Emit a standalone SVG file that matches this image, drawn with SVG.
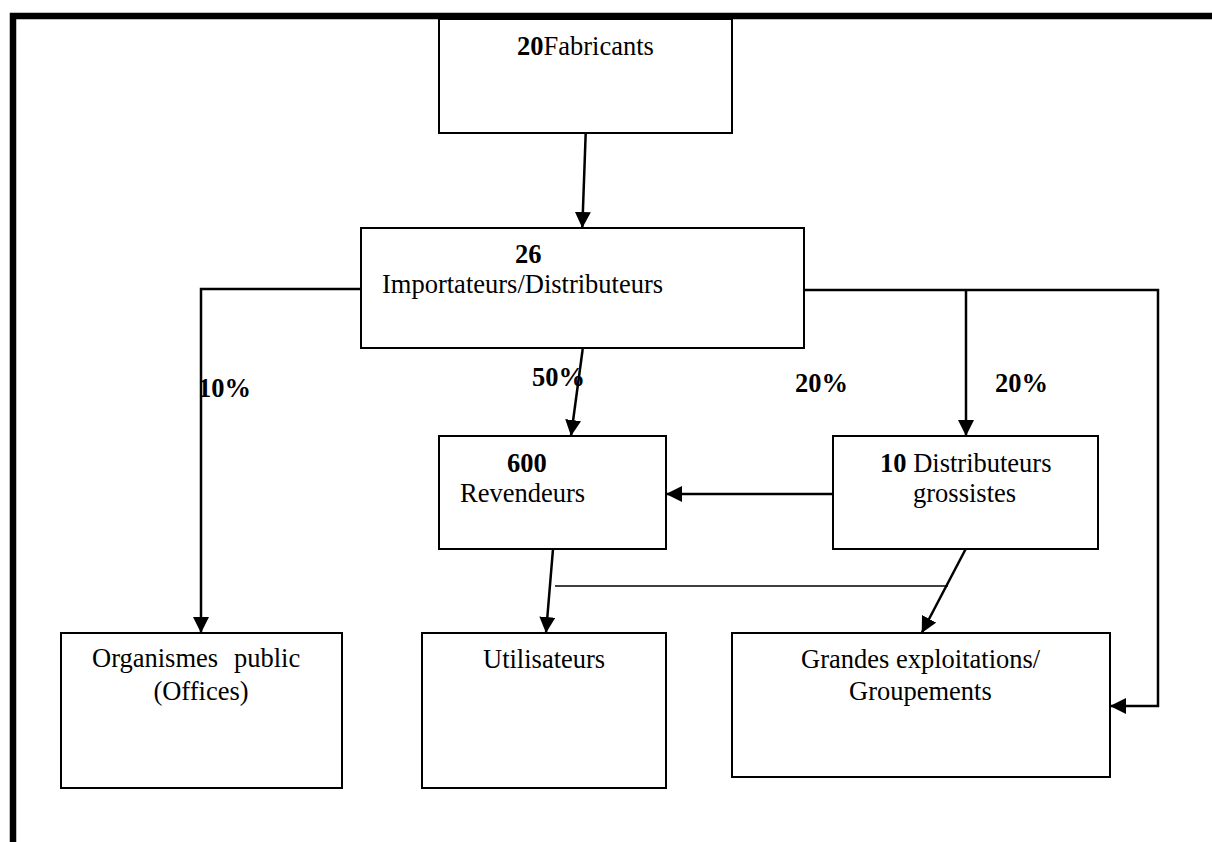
<svg xmlns="http://www.w3.org/2000/svg" width="1212" height="842" viewBox="0 0 1212 842">
<style>
.box{fill:#fff;stroke:#000;stroke-width:2}
.t{font-family:"Liberation Serif","Times New Roman",serif;font-size:26.5px;fill:#000}
.b{font-weight:bold}
.c{fill:none;stroke:#000;stroke-width:2.5}
.thin{fill:none;stroke:#000;stroke-width:1.6}
</style>
<defs>
<marker id="ah" markerUnits="userSpaceOnUse" markerWidth="17" markerHeight="16" refX="16" refY="8" orient="auto">
<path d="M0,0 L16,8 L0,16 Z" fill="#000"/>
</marker>
</defs>
<rect x="0" y="0" width="1212" height="842" fill="#fff"/>
<g id="frame">
<path d="M13,842 L13,16 L1212,16" fill="none" stroke="#000" stroke-width="6.5"/>
</g>
<g id="n-fabricants">
<rect class="box" x="439" y="19" width="293" height="114"/>
<text class="t" x="517" y="55"><tspan class="b">20</tspan>Fabricants</text>
</g>
<g id="n-importateurs">
<rect class="box" x="361" y="228" width="443" height="120"/>
<text class="t b" x="515" y="263">26</text>
<text class="t" x="382" y="293">Importateurs/Distributeurs</text>
</g>
<g id="n-revendeurs">
<rect class="box" x="439" y="436" width="227" height="113"/>
<text class="t b" x="507" y="472">600</text>
<text class="t" x="460" y="502">Revendeurs</text>
</g>
<g id="n-distributeurs">
<rect class="box" x="833" y="436" width="265" height="113"/>
<text class="t" x="880" y="472"><tspan class="b">10</tspan> Distributeurs</text>
<text class="t" x="913" y="502">grossistes</text>
</g>
<g id="n-organismes">
<rect class="box" x="61" y="633" width="281" height="155"/>
<text class="t" x="92" y="667">Organismes<tspan x="234">public</tspan></text>
<text class="t" x="201" y="700" text-anchor="middle">(Offices)</text>
</g>
<g id="n-utilisateurs">
<rect class="box" x="422" y="633" width="244" height="155"/>
<text class="t" x="483" y="668">Utilisateurs</text>
</g>
<g id="n-grandes">
<rect class="box" x="732" y="633" width="378" height="144"/>
<text class="t" x="801" y="668">Grandes exploitations/</text>
<text class="t" x="849" y="700">Groupements</text>
</g>
<g id="connectors">
<path class="c" d="M585.7,133 L582.3,228" marker-end="url(#ah)"/>
<path class="c" d="M361,289 L201,289 L201,633" marker-end="url(#ah)"/>
<path class="c" d="M582.7,349 L571,436" marker-end="url(#ah)"/>
<path class="c" d="M804,290 L1158,290 L1158,706 L1110,706" marker-end="url(#ah)"/>
<path class="c" d="M966,290 L966,436" marker-end="url(#ah)"/>
<path class="c" d="M833,494 L666,494" marker-end="url(#ah)"/>
<path class="c" d="M553,549 L546,633" marker-end="url(#ah)"/>
<path class="c" d="M965.7,549 L921.7,633" marker-end="url(#ah)"/>
<path class="thin" d="M555,586 L948,586"/>
<text class="t b" x="198" y="397">10%</text>
<text class="t b" x="532" y="386">50%</text>
<text class="t b" x="795" y="392">20%</text>
<text class="t b" x="995" y="392">20%</text>
</g>
</svg>
